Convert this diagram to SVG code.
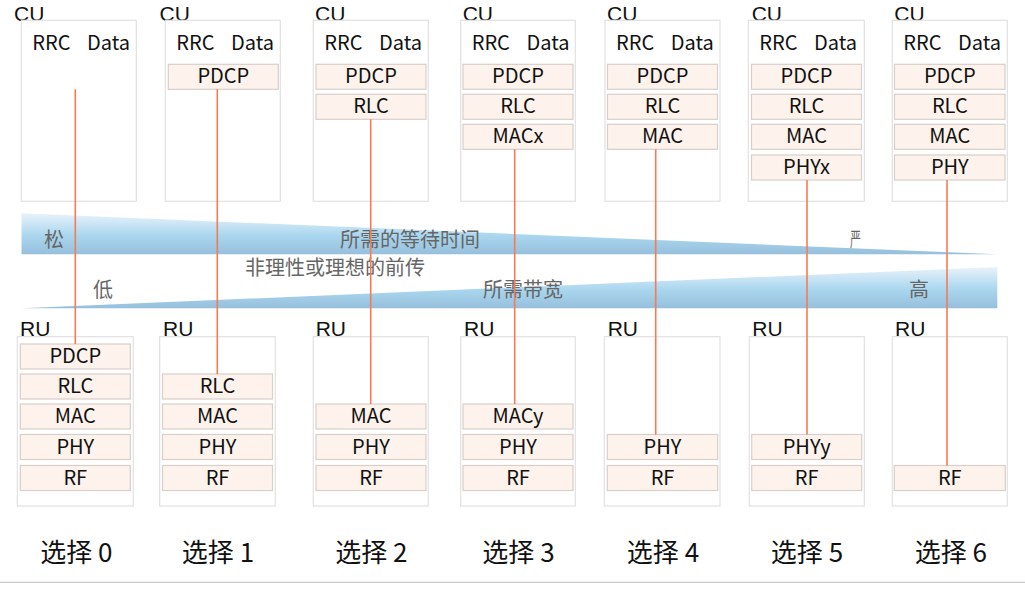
<svg xmlns="http://www.w3.org/2000/svg" width="1025" height="594" viewBox="0 0 1025 594">
<defs>
<linearGradient id="gTop" x1="0" y1="0" x2="0" y2="1">
<stop offset="0" stop-color="#e8f2fb"/>
<stop offset="0.55" stop-color="#a9d6ee"/>
<stop offset="1" stop-color="#97bfdc"/>
</linearGradient>
<linearGradient id="gBot" x1="0" y1="0" x2="0" y2="1">
<stop offset="0" stop-color="#e8f2fb"/>
<stop offset="0.55" stop-color="#a9d6ee"/>
<stop offset="1" stop-color="#97bfdc"/>
</linearGradient>
<style>
text{font-family:"Noto Sans CJK SC","Noto Sans",sans-serif;}
.box{fill:#ffffff;stroke:#e1e1e1;stroke-width:1.2;}
.lay{fill:#fdf3ec;stroke:#d8cfca;stroke-width:1.2;}
.lt{font-size:20px;fill:#111;text-anchor:middle;}
.hd{font-size:21px;fill:#111;font-family:"Liberation Sans",Arial,sans-serif;}
.rd{font-size:20px;fill:#111;}
.wt{font-size:20px;fill:#666;}
.opt{font-size:26px;fill:#111;text-anchor:middle;}
.cn{stroke:#f47b57;stroke-width:1.6;fill:none;}
</style>
</defs>
<rect width="1025" height="594" fill="#ffffff"/>

<!-- wedges -->
<g id="latency-wedge">
<polygon points="21.5,213.3 997.3,254.3 21.5,254.3" fill="url(#gTop)"/>
<text class="wt" x="44" y="247">松</text>
<text class="wt" x="340" y="247">所需的等待时间</text>
<text class="wt" transform="translate(850,247) scale(0.55,1)" x="0" y="0">严</text>
</g>
<text id="fronthaul-label" class="wt" x="245" y="275">非理性或理想的前传</text>
<g id="bandwidth-wedge">
<polygon points="21.5,308.3 997.3,267 997.3,308.3" fill="url(#gBot)"/>
<text class="wt" x="93" y="297">低</text>
<text class="wt" x="483" y="297">所需带宽</text>
<text class="wt" x="909" y="297">高</text>
</g>

<!-- option 0 -->
<g id="cu0">
<text class="hd" x="14" y="20.5">CU</text>
<rect class="box" x="21.3" y="20.3" width="115" height="181"/>
<text class="rd" x="32.3" y="50">RRC</text><text class="rd" x="87" y="50">Data</text>
</g>
<g id="ru0">
<text class="hd" x="20" y="336">RU</text>
<rect class="box" x="17.3" y="336.7" width="116" height="169.3"/>
<rect class="lay" x="20.3" y="344" width="110" height="25"/><text class="lt" x="75.3" y="363">PDCP</text>
<rect class="lay" x="20.3" y="374" width="110" height="25"/><text class="lt" x="75.3" y="393">RLC</text>
<rect class="lay" x="20.3" y="404" width="110" height="25"/><text class="lt" x="75.3" y="423">MAC</text>
<rect class="lay" x="20.3" y="434.5" width="110" height="25"/><text class="lt" x="75.3" y="453.5">PHY</text>
<rect class="lay" x="20.3" y="465.5" width="110" height="25"/><text class="lt" x="75.3" y="484.5">RF</text>
</g>

<!-- option 1 -->
<g id="cu1">
<text class="hd" x="159.5" y="20.5">CU</text>
<rect class="box" x="165.3" y="20.3" width="115" height="181"/>
<text class="rd" x="176.3" y="50">RRC</text><text class="rd" x="231" y="50">Data</text>
<rect class="lay" x="168.3" y="64.3" width="110" height="25"/><text class="lt" x="223.3" y="83.3">PDCP</text>
</g>
<g id="ru1">
<text class="hd" x="163" y="336">RU</text>
<rect class="box" x="159.7" y="336.7" width="115.6" height="169.3"/>
<rect class="lay" x="162.5" y="374" width="110" height="25"/><text class="lt" x="217.5" y="393">RLC</text>
<rect class="lay" x="162.5" y="404" width="110" height="25"/><text class="lt" x="217.5" y="423">MAC</text>
<rect class="lay" x="162.5" y="434.5" width="110" height="25"/><text class="lt" x="217.5" y="453.5">PHY</text>
<rect class="lay" x="162.5" y="465.5" width="110" height="25"/><text class="lt" x="217.5" y="484.5">RF</text>
</g>

<!-- option 2 -->
<g id="cu2">
<text class="hd" x="315" y="20.5">CU</text>
<rect class="box" x="313.3" y="20.3" width="115" height="181"/>
<text class="rd" x="324.3" y="50">RRC</text><text class="rd" x="379" y="50">Data</text>
<rect class="lay" x="316" y="64.3" width="110" height="25"/><text class="lt" x="371" y="83.3">PDCP</text>
<rect class="lay" x="316" y="94.3" width="110" height="25"/><text class="lt" x="371" y="113.3">RLC</text>
</g>
<g id="ru2">
<text class="hd" x="315.7" y="336">RU</text>
<rect class="box" x="313.3" y="336.7" width="115" height="169.3"/>
<rect class="lay" x="316" y="404" width="110" height="25"/><text class="lt" x="371" y="423">MAC</text>
<rect class="lay" x="316" y="434.5" width="110" height="25"/><text class="lt" x="371" y="453.5">PHY</text>
<rect class="lay" x="316" y="465.5" width="110" height="25"/><text class="lt" x="371" y="484.5">RF</text>
</g>

<!-- option 3 -->
<g id="cu3">
<text class="hd" x="462.7" y="20.5">CU</text>
<rect class="box" x="460.7" y="20.3" width="114.6" height="181"/>
<text class="rd" x="471.7" y="50">RRC</text><text class="rd" x="526.5" y="50">Data</text>
<rect class="lay" x="463" y="64.3" width="110" height="25"/><text class="lt" x="518" y="83.3">PDCP</text>
<rect class="lay" x="463" y="94.3" width="110" height="25"/><text class="lt" x="518" y="113.3">RLC</text>
<rect class="lay" x="463" y="124.3" width="110" height="25"/><text class="lt" x="518" y="143.3">MACx</text>
</g>
<g id="ru3">
<text class="hd" x="464" y="336">RU</text>
<rect class="box" x="460.7" y="336.7" width="114.6" height="169.3"/>
<rect class="lay" x="463" y="404" width="110" height="25"/><text class="lt" x="518" y="423">MACy</text>
<rect class="lay" x="463" y="434.5" width="110" height="25"/><text class="lt" x="518" y="453.5">PHY</text>
<rect class="lay" x="463" y="465.5" width="110" height="25"/><text class="lt" x="518" y="484.5">RF</text>
</g>

<!-- option 4 -->
<g id="cu4">
<text class="hd" x="607" y="20.5">CU</text>
<rect class="box" x="605" y="20.3" width="115" height="181"/>
<text class="rd" x="616" y="50">RRC</text><text class="rd" x="670.7" y="50">Data</text>
<rect class="lay" x="607.5" y="64.3" width="110" height="25"/><text class="lt" x="662.5" y="83.3">PDCP</text>
<rect class="lay" x="607.5" y="94.3" width="110" height="25"/><text class="lt" x="662.5" y="113.3">RLC</text>
<rect class="lay" x="607.5" y="124.3" width="110" height="25"/><text class="lt" x="662.5" y="143.3">MAC</text>
</g>
<g id="ru4">
<text class="hd" x="607.7" y="336">RU</text>
<rect class="box" x="604.3" y="336.7" width="115.7" height="169.3"/>
<rect class="lay" x="607.3" y="434.5" width="110.4" height="25"/><text class="lt" x="662.5" y="453.5">PHY</text>
<rect class="lay" x="607.3" y="465.5" width="110.4" height="25"/><text class="lt" x="662.5" y="484.5">RF</text>
</g>

<!-- option 5 -->
<g id="cu5">
<text class="hd" x="751.7" y="20.5">CU</text>
<rect class="box" x="748.3" y="20.3" width="116" height="181"/>
<text class="rd" x="759.3" y="50">RRC</text><text class="rd" x="814" y="50">Data</text>
<rect class="lay" x="751.5" y="64.3" width="110" height="25"/><text class="lt" x="806.5" y="83.3">PDCP</text>
<rect class="lay" x="751.5" y="94.3" width="110" height="25"/><text class="lt" x="806.5" y="113.3">RLC</text>
<rect class="lay" x="751.5" y="124.3" width="110" height="25"/><text class="lt" x="806.5" y="143.3">MAC</text>
<rect class="lay" x="751.5" y="155" width="110" height="25"/><text class="lt" x="806.5" y="174">PHYx</text>
</g>
<g id="ru5">
<text class="hd" x="752.3" y="336">RU</text>
<rect class="box" x="749.3" y="336.7" width="115" height="169.3"/>
<rect class="lay" x="751.7" y="434.5" width="110" height="25"/><text class="lt" x="806.7" y="453.5">PHYy</text>
<rect class="lay" x="751.7" y="465.5" width="110" height="25"/><text class="lt" x="806.7" y="484.5">RF</text>
</g>

<!-- option 6 -->
<g id="cu6">
<text class="hd" x="894.3" y="20.5">CU</text>
<rect class="box" x="892.3" y="20.3" width="115" height="181"/>
<text class="rd" x="903.3" y="50">RRC</text><text class="rd" x="958" y="50">Data</text>
<rect class="lay" x="894.5" y="64.3" width="110.5" height="25"/><text class="lt" x="949.8" y="83.3">PDCP</text>
<rect class="lay" x="894.5" y="94.3" width="110.5" height="25"/><text class="lt" x="949.8" y="113.3">RLC</text>
<rect class="lay" x="894.5" y="124.3" width="110.5" height="25"/><text class="lt" x="949.8" y="143.3">MAC</text>
<rect class="lay" x="894.5" y="155" width="110.5" height="25"/><text class="lt" x="949.8" y="174">PHY</text>
</g>
<g id="ru6">
<text class="hd" x="895" y="336">RU</text>
<rect class="box" x="892.3" y="336.7" width="115" height="169.3"/>
<rect class="lay" x="894.3" y="465.5" width="111" height="25"/><text class="lt" x="949.8" y="484.5">RF</text>
</g>

<!-- connectors -->
<g id="connectors">
<line class="cn" x1="75.3" y1="89.3" x2="75.3" y2="344"/>
<line class="cn" x1="217.3" y1="89.3" x2="217.3" y2="374"/>
<line class="cn" x1="370.7" y1="119.3" x2="370.7" y2="404"/>
<line class="cn" x1="514.7" y1="149.3" x2="514.7" y2="404"/>
<line class="cn" x1="655.7" y1="149.3" x2="655.7" y2="434.5"/>
<line class="cn" x1="807" y1="180" x2="807" y2="434.5"/>
<line class="cn" x1="947" y1="180" x2="947" y2="465.5"/>
</g>

<!-- option labels -->
<g id="labels">
<text class="opt" x="76.3" y="562">选择 0</text>
<text class="opt" x="218" y="562">选择 1</text>
<text class="opt" x="371.3" y="562">选择 2</text>
<text class="opt" x="518.5" y="562">选择 3</text>
<text class="opt" x="663" y="562">选择 4</text>
<text class="opt" x="807" y="562">选择 5</text>
<text class="opt" x="950.8" y="562">选择 6</text>
</g>
<line x1="0" y1="582.3" x2="1025" y2="582.3" stroke="#c8c8c8" stroke-width="1.2"/>
</svg>
